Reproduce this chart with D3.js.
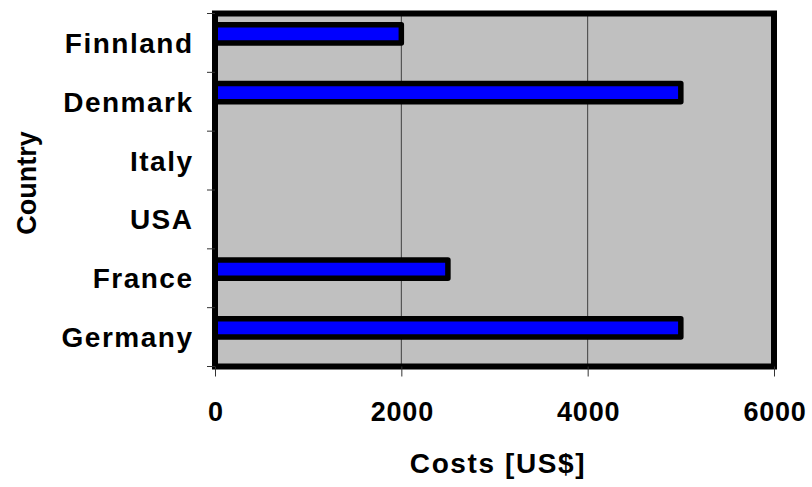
<!DOCTYPE html>
<html>
<head>
<meta charset="utf-8">
<script src="https://cdn.jsdelivr.net/npm/d3@7"></script>
<style>
  html, body { margin: 0; padding: 0; background: #fff; }
  svg { display: block; }
  text { font-family: "Liberation Sans", Arial, sans-serif; font-weight: bold; fill: #000; }
</style>
</head>
<body>
<svg id="chart" width="812" height="487"></svg>
<script>
const categories = ["Finnland", "Denmark", "Italy", "USA", "France", "Germany"];
const costs = [2000, 5000, null, null, 2500, 5000];
const xTicks = [0, 2000, 4000, 6000];
const xTitle = "Costs [US$]";
const yTitle = "Country";

const svg = d3.select("#chart");
const plot = { left: 215, right: 774, top: 13.5, bottom: 366.5 };

const x = d3.scaleLinear().domain([0, 6000]).range([plot.left, plot.right]);
const y = d3.scaleBand().domain(categories).range([plot.top, plot.bottom]).padding(0);

// plot background
svg.append("rect")
  .attr("x", plot.left).attr("y", plot.top)
  .attr("width", plot.right - plot.left).attr("height", plot.bottom - plot.top)
  .attr("fill", "#c0c0c0");

// gridlines
svg.append("g").selectAll("line")
  .data(xTicks.filter(d => d > 0 && d < 6000))
  .join("line")
  .attr("x1", d => x(d)).attr("x2", d => x(d))
  .attr("y1", plot.top).attr("y2", plot.bottom)
  .attr("stroke", "#404040").attr("stroke-width", 1);

// bars
const bw = y.bandwidth();
const data = categories.map((c, i) => ({ c, v: costs[i] })).filter(d => d.v != null);
svg.append("g").selectAll("rect")
  .data(data)
  .join("rect")
  .attr("x", x(0))
  .attr("y", d => y(d.c) + bw * 0.19)
  .attr("width", d => x(d.v) - x(0))
  .attr("height", bw * 0.31)
  .attr("fill", "#0000ff")
  .attr("stroke", "#000")
  .attr("stroke-width", 5.5)
  .attr("stroke-linejoin", "round");

// plot border
svg.append("rect")
  .attr("x", plot.left).attr("y", plot.top)
  .attr("width", plot.right - plot.left).attr("height", plot.bottom - plot.top)
  .attr("fill", "none")
  .attr("stroke", "#000").attr("stroke-width", 6);

// y axis ticks (category boundaries)
const yBounds = categories.map(c => y(c)).concat([plot.bottom]);
svg.append("g").selectAll("line")
  .data(yBounds)
  .join("line")
  .attr("x1", plot.left - 8).attr("x2", plot.left)
  .attr("y1", d => d).attr("y2", d => d)
  .attr("stroke", "#333").attr("stroke-width", 1);

// category labels
svg.append("g").selectAll("text")
  .data(categories)
  .join("text")
  .attr("x", 192 + 1.5)
  .attr("y", d => y(d) + bw / 2 + 10)
  .attr("text-anchor", "end")
  .style("font-size", "28px")
  .style("letter-spacing", "1.5px")
  .text(d => d);

// x axis
const xAxis = d3.axisBottom(x).tickValues(xTicks).tickSize(10).tickPadding(25).tickFormat(d3.format("d"));
const gx = svg.append("g").attr("transform", `translate(0,${plot.bottom})`).call(xAxis);
gx.select(".domain").remove();
gx.selectAll(".tick line").attr("stroke", "#333").attr("stroke-width", 1);
gx.selectAll(".tick text")
  .style("font-size", "27px")
  .style("letter-spacing", "0.8px")
  .attr("dx", "0.5px")
  .attr("font-family", null);

// titles
svg.append("text")
  .attr("x", 497 + 1).attr("y", 473)
  .attr("text-anchor", "middle")
  .style("font-size", "28px")
  .style("letter-spacing", "1.6px")
  .text(xTitle);

svg.append("text")
  .attr("transform", "translate(36,183) rotate(-90)")
  .attr("text-anchor", "middle")
  .style("font-size", "27px")
  .style("letter-spacing", "0px")
  .text(yTitle);
</script>
</body>
</html>
